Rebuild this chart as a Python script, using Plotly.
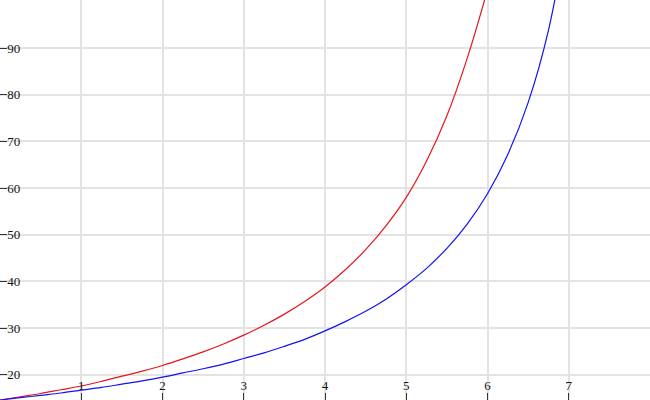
import plotly.graph_objects as go

# Values (x every 0.25)
red_x = [0, 0.25, 0.5, 0.75, 1.0, 1.25, 1.5, 1.75, 2.0, 2.25, 2.5, 2.75, 3.0,
         3.25, 3.5, 3.75, 4.0, 4.25, 4.5, 4.75, 5.0, 5.25, 5.5, 5.75, 6.0]
red_y = [14.6, 15.3, 16.0, 16.8, 17.6, 18.6, 19.7, 20.8, 22.0, 23.4, 24.9, 26.6, 28.5,
         30.6, 33.0, 35.7, 38.8, 42.5, 46.8, 51.9, 58.0, 65.8, 75.5, 87.8, 102.5]

blue_x = [0, 0.25, 0.5, 0.75, 1.0, 1.25, 1.5, 1.75, 2.0, 2.25, 2.5, 2.75, 3.0,
          3.25, 3.5, 3.75, 4.0, 4.25, 4.5, 4.75, 5.0, 5.25, 5.5, 5.75, 6.0,
          6.25, 6.5, 6.75, 7.0]
blue_y = [14.6, 15.1, 15.6, 16.1, 16.7, 17.3, 18.0, 18.7, 19.5, 20.4, 21.3, 22.3, 23.5,
          24.7, 26.1, 27.6, 29.4, 31.4, 33.6, 36.2, 39.3, 42.8, 47.1, 52.3, 58.8,
          67.2, 78.3, 93.8, 117.0]

x_ticks = [1, 2, 3, 4, 5, 6, 7]
y_ticks = [20, 30, 40, 50, 60, 70, 80, 90]

fig = go.Figure()
fig.add_trace(go.Scatter(x=red_x, y=red_y, mode="lines",
                         line=dict(color="#e8161b", width=1.2, shape="spline", smoothing=1),
                         showlegend=False))
fig.add_trace(go.Scatter(x=blue_x, y=blue_y, mode="lines",
                         line=dict(color="#1212f5", width=1.2, shape="spline", smoothing=1),
                         showlegend=False))

tfont = dict(family="Liberation Serif", size=13, color="#111111")

axis_common = dict(
    ticks="inside", ticklen=7, tickwidth=1, tickcolor="#333333",
    ticklabelposition="inside", tickfont=tfont,
    showgrid=True, gridcolor="#e3e3e3", gridwidth=1.5,
    showline=True, linecolor="#666666", linewidth=1.5,
    zeroline=False, fixedrange=True, automargin=False,
)

fig.update_layout(
    width=650, height=400, autosize=False,
    margin=dict(l=0, r=0, t=0, b=0, pad=0),
    paper_bgcolor="white", plot_bgcolor="white",
    font=tfont,
    xaxis=dict(range=[0, 8], tickvals=x_ticks, ticktext=[str(v) for v in x_ticks], **axis_common),
    yaxis=dict(range=[14.6, 100.3], tickvals=y_ticks, ticktext=[str(v) for v in y_ticks], **axis_common),
)

fig.write_html("out.html", config={"displayModeBar": False},
               post_script="document.body.style.margin='0';document.body.style.overflow='hidden';")
